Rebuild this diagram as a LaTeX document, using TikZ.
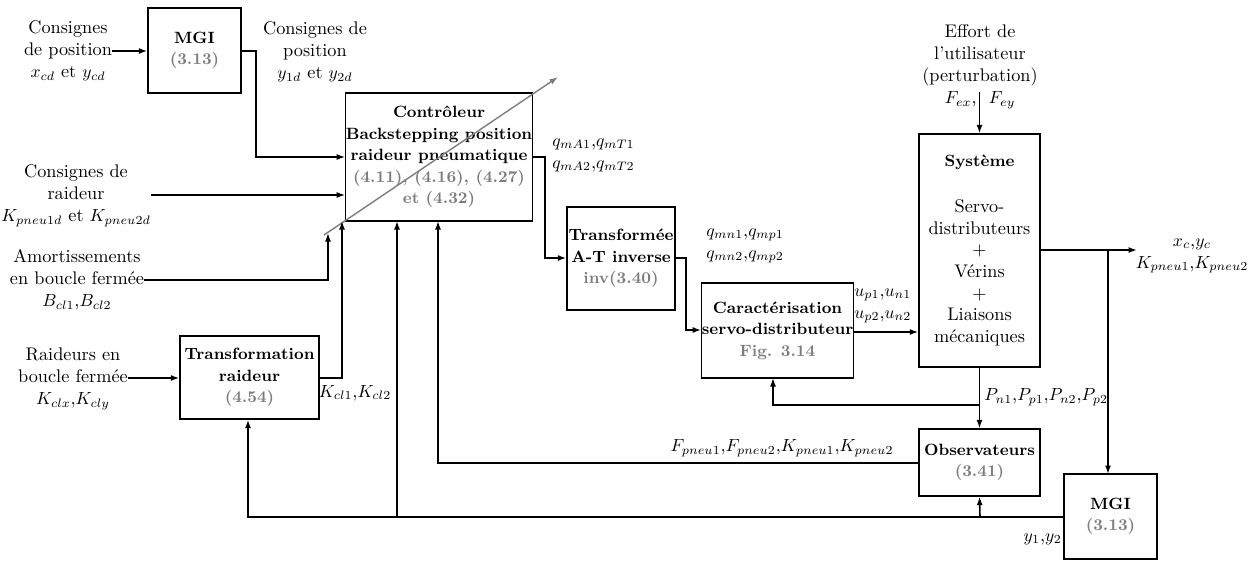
\documentclass[tikz,border=0pt]{standalone}
\usetikzlibrary{arrows.meta}
\definecolor{eqgray}{RGB}{125,125,125}
\newcommand{\eqn}[1]{\textcolor{eqgray}{\textbf{#1}}}
\newcommand{\blk}[6]{\node[box,minimum width={(#4-#2)*0.02cm},minimum height={(#5-#3)*0.02cm}] (#1) at ({(#2+#4)/2},{(#3+#5)/2}) {#6};}
\begin{document}
\begin{tikzpicture}[x=0.02cm,y=-0.02cm,
  font=\fontsize{10.4}{12.5}\selectfont,
  box/.style={draw,line width=0.7pt,inner sep=0pt,align=center,font=\fontsize{9.3}{12.3}\selectfont},
  lbl/.style={align=center,inner sep=0pt},
  wire/.style={line width=0.9pt},
  arr/.style={wire,-{Latex[length=1.7mm,width=1.2mm]}}]
\useasboundingbox (0,0) rectangle (1250,561);
% blocks
\blk{mgia}{148}{8}{241}{93}{\textbf{MGI}\\\eqn{(3.13)}}
\blk{ctrl}{346}{93}{532}{221}{\textbf{Contrôleur}\\\textbf{Backstepping position}\\\textbf{raideur pneumatique}\\\eqn{(4.11), (4.16), (4.27)}\\\eqn{et (4.32)}}
\blk{at}{567}{207}{675}{310}{\textbf{Transformée}\\\textbf{A-T inverse}\\\eqn{inv(3.40)}}
\blk{car}{703}{283}{852}{378}{\textbf{Caractérisation}\\\textbf{servo-distributeur}\\\eqn{Fig. 3.14}}
\blk{sys}{919}{134}{1040}{367}{\textbf{Système}\\[14pt]\fontsize{10.4}{12.3}\selectfont Servo-\\\fontsize{10.4}{12.3}\selectfont distributeurs\\\fontsize{10.4}{12.3}\selectfont +\\\fontsize{10.4}{12.3}\selectfont Vérins\\\fontsize{10.4}{12.3}\selectfont +\\\fontsize{10.4}{12.3}\selectfont Liaisons\\\fontsize{10.4}{12.3}\selectfont mécaniques}
\blk{obs}{919}{429}{1040}{496}{\textbf{Observateurs}\\\eqn{(3.41)}}
\blk{mgib}{1064}{474}{1157}{559}{\textbf{MGI}\\\eqn{(3.13)}}
\blk{tr}{180}{336}{319}{419}{\textbf{Transformation}\\\textbf{raideur}\\\eqn{(4.54)}}
% input texts
\node[lbl] (in1) at (68,51) {Consignes\\de position\\$x_{cd}$ et $y_{cd}$};
\node[lbl] (in2) at (76,196) {Consignes de\\raideur\\$K_{pneu1d}$ et $K_{pneu2d}$};
\node[lbl] (in3) at (77,280) {Amortissements\\en boucle fermée\\$B_{cl1}$,$B_{cl2}$};
\node[lbl] (in4) at (73,379) {Raideurs en\\boucle fermée\\$K_{clx}$,$K_{cly}$};
\node[lbl] (pert) at (980,67) {Effort de\\l'utilisateur\\(perturbation)\\$F_{ex}$,\ \ $F_{ey}$};
% signal labels
\node[lbl] (lyd) at (315,52) {Consignes de\\position\\$y_{1d}$ et $y_{2d}$};
\node[lbl,align=left,anchor=west] (lqm) at (552,155) {$q_{mA1}$,$q_{mT1}$\\$q_{mA2}$,$q_{mT2}$};
\node[lbl,align=left,anchor=west] (lqn) at (706,246) {$q_{mn1}$,$q_{mp1}$\\$q_{mn2}$,$q_{mp2}$};
\node[lbl,align=left,anchor=west] (lu) at (854,306) {$u_{p1}$,$u_{n1}$\\$u_{p2}$,$u_{n2}$};
\node[lbl] (lout) at (1192,256) {$x_c$,$y_c$\\$K_{pneu1}$,$K_{pneu2}$};
\node[lbl,anchor=west] (lp) at (984,397) {$P_{n1}$,$P_{p1}$,$P_{n2}$,$P_{p2}$};
\node[lbl] (lf) at (782,448) {$F_{pneu1}$,$F_{pneu2}$,$K_{pneu1}$,$K_{pneu2}$};
\node[lbl,anchor=east] (ly) at (1062,539) {$y_1$,$y_2$};
\node[lbl] (lk) at (355,393) {$K_{cl1}$,$K_{cl2}$};
% gray diagonal
\coordinate (d0) at (324,235);
\coordinate (d1) at (558,77);
\draw[line width=0.8pt,eqgray,-{Latex[length=1.7mm,width=1.2mm]}] (d0) -- (d1);
% connectors
\coordinate (pa) at (980,92);
\draw[arr] (in1.east) -- (in1.east -| mgia.west);
\draw[arr] (mgia.east |- 0,51) -- (256,51) |- (ctrl.west |- 0,157);
\draw[arr] (in2.east |- 0,195) -- (ctrl.west |- 0,195);
\draw[arr] (in3.east) -- (328,280) -- (328,233);
\draw[arr] (in4.east |- 0,378) -- (tr.west |- 0,378);
\draw[arr] (tr.east |- 0,378) -- (342,378) -- (342,221);
\draw[arr] (ctrl.east |- 0,157) -- (545,157) |- (at.west |- 0,258);
\draw[arr] (at.east |- 0,258) -- (686,258) |- (car.west |- 0,330);
\draw[arr] (car.east |- 0,332) -- (sys.west |- 0,332);
\draw[arr] (pa -| sys.north) -- (sys.north);
\draw[arr] (sys.east |- 0,250) -- (1137,250);
\draw[arr] (1108,250) -- (1108,474);
\draw[arr] (sys.south) -- (obs.north);
\draw[arr] (980,405) -- (773,405) -- (773,378);
\draw[arr] (obs.west |- 0,463) -- (438,463) -- (438,221);
\draw[arr] (mgib.west |- 0,517) -- (248,517) -- (tr.south -| 248,0);
\draw[arr] (980,517) -- (obs.south);
\draw[arr] (397,517) -- (397,221);
\end{tikzpicture}
\end{document}
